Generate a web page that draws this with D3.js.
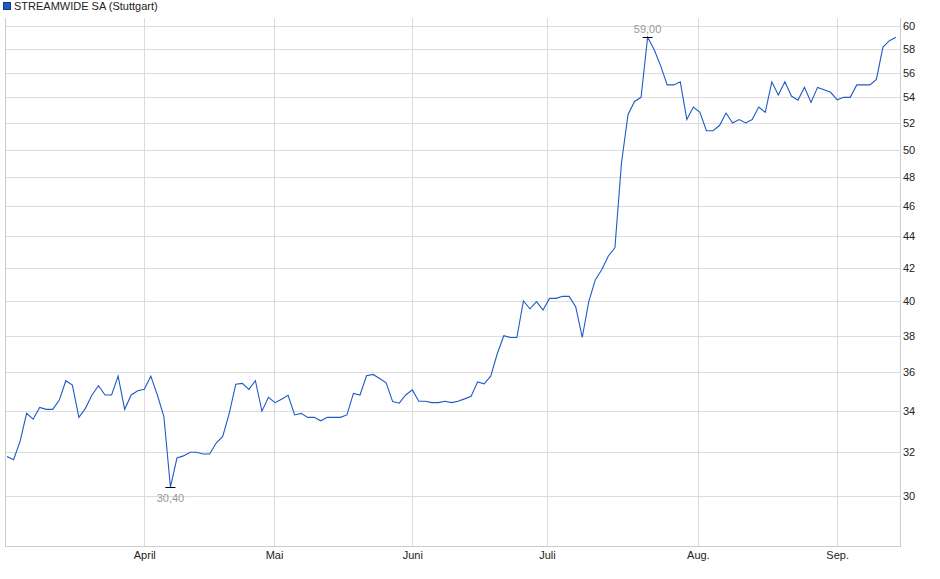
<!DOCTYPE html>
<html><head><meta charset="utf-8">
<script src="https://cdn.jsdelivr.net/npm/d3@7"></script>
<style>body{margin:0;background:#fff}svg{font-family:"Liberation Sans",Arial,sans-serif}</style>
</head><body><svg id="c" width="940" height="579"></svg>
<script>
const title = "STREAMWIDE SA (Stuttgart)";
const prices = [31.80,31.65,32.52,33.89,33.6,34.19,34.09,34.09,34.56,35.56,35.33,33.69,34.14,34.82,35.30,34.82,34.82,35.8,34.09,34.82,35.04,35.11,35.8,34.82,33.73,30.40,31.73,31.83,32.0,32.0,31.92,31.92,32.44,32.76,33.89,35.38,35.42,35.11,35.56,34.0,34.7,34.43,34.6,34.8,33.81,33.89,33.69,33.69,33.52,33.69,33.69,33.69,33.81,34.9,34.82,35.82,35.89,35.68,35.45,34.48,34.4,34.82,35.08,34.5,34.5,34.43,34.43,34.5,34.43,34.5,34.62,34.75,35.5,35.4,35.8,37.0,38.0,37.9,37.9,40.0,39.54,39.96,39.46,40.15,40.15,40.27,40.27,39.66,37.9,39.96,41.26,41.9,42.74,43.26,49.0,52.64,53.67,54.0,59.0,57.95,56.56,55.0,55.0,55.25,52.26,53.23,52.82,51.41,51.41,51.8,52.77,52.0,52.26,52.0,52.26,53.23,52.82,55.25,54.19,55.25,54.1,53.78,54.8,53.6,54.8,54.6,54.4,53.8,54.0,54.0,55.0,55.0,55.0,55.45,58.15,58.7,59.0];
const monthLabels = ["April","Mai","Juni","Juli","Aug.","Sep."];
const monthIdx = [21,40.85,62,82.6,105.7,127];
const yTicks = [30,32,34,36,38,40,42,44,46,48,50,52,54,56,58,60];
const maxLabel = "59,00", minLabel = "30,40";

const svg = d3.select("#c");
const L=5, R=900, T=18, B=546;
const x = d3.scaleLinear().domain([0, prices.length-1]).range([L+2, R-4]);
const y = d3.scaleLog().domain([27.87, 60.7]).range([B, T]);

const g = svg.append("g");
g.selectAll("line.h").data(yTicks).join("line").attr("x1",L).attr("x2",R)
  .attr("y1",d=>Math.round(y(d))+0.5).attr("y2",d=>Math.round(y(d))+0.5).attr("stroke","#dcdcdc");
g.selectAll("line.v").data(monthIdx).join("line").attr("y1",T).attr("y2",B)
  .attr("x1",d=>Math.round(x(d))+0.5).attr("x2",d=>Math.round(x(d))+0.5).attr("stroke","#dcdcdc");
// frame
svg.append("line").attr("x1",L+0.5).attr("x2",L+0.5).attr("y1",T).attr("y2",B).attr("stroke","#ccc");
svg.append("line").attr("x1",R+0.5).attr("x2",R+0.5).attr("y1",T).attr("y2",B+1).attr("stroke","#ccc");
svg.append("line").attr("x1",L).attr("x2",R).attr("y1",B+0.5).attr("y2",B+0.5).attr("stroke","#ccc");

// axes
const ya = svg.append("g").attr("transform",`translate(${R},0)`)
  .call(d3.axisRight(y).tickValues(yTicks).tickFormat(d3.format("d")).tickSize(0).tickPadding(3));
ya.select(".domain").remove();
ya.selectAll("text").attr("font-size",11).attr("fill","#222").attr("font-family","Liberation Sans, Arial");
const xa = svg.append("g").attr("transform",`translate(0,${B})`)
  .call(d3.axisBottom(x).tickValues(monthIdx).tickFormat((d,i)=>monthLabels[i]).tickSize(0).tickPadding(5));
xa.select(".domain").remove();
xa.selectAll("text").attr("font-size",11).attr("fill","#222").attr("font-family","Liberation Sans, Arial");

// line
svg.append("path").datum(prices).attr("fill","none").attr("stroke","#1f5bc6").attr("stroke-width",1.1)
  .attr("d", d3.line().x((d,i)=>x(i)).y(d=>y(d)));

// extremes
const iMax = d3.maxIndex(prices), iMin = d3.minIndex(prices);
[[iMax,maxLabel,-5],[iMin,minLabel,14]].forEach(([i,lab,dy])=>{
  const px=x(i), py=Math.round(y(prices[i]))+0.5;
  svg.append("line").attr("x1",px-5).attr("x2",px+5).attr("y1",py).attr("y2",py).attr("stroke","#000");
  svg.append("text").attr("x",px).attr("y",py+dy).attr("text-anchor","middle")
    .attr("font-size",11).attr("fill","#999").text(lab);
});

// legend
svg.append("rect").attr("x",3.5).attr("y",2.5).attr("width",7).attr("height",7).attr("fill","#1f5bc6").attr("stroke","#123a80");
svg.append("text").attr("x",14).attr("y",10).attr("font-size",11).attr("fill","#222").text(title);
</script></body></html>
